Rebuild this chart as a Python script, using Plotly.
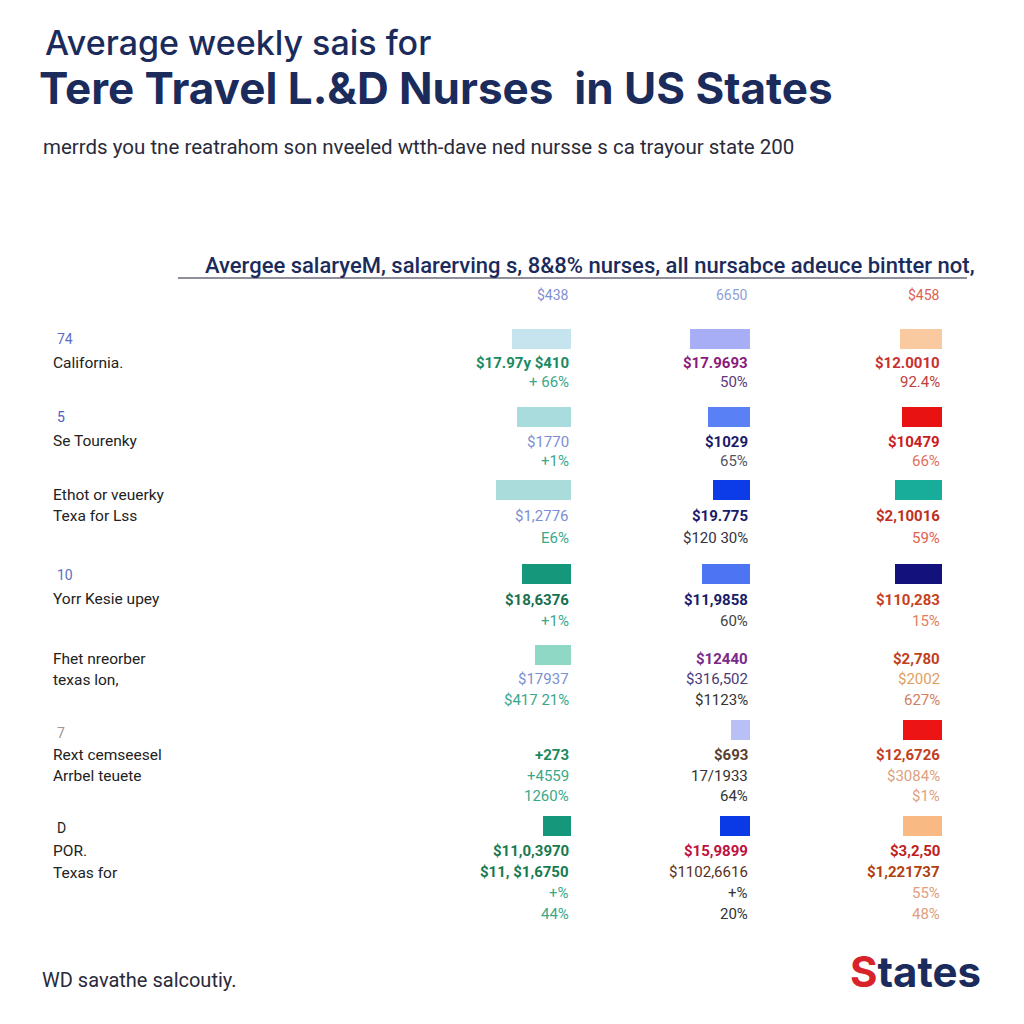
import plotly.graph_objects as go

# ---------------- data ----------------
rows = ["r1", "r2", "r3", "r4", "r5", "r6", "r7"]
row_codes = ["74", "5", "", "10", "", "7", "D"]
row_names = [
    ["California."],
    ["Se Tourenky"],
    ["Ethot or veuerky", "Texa for Lss"],
    ["Yorr Kesie upey"],
    ["Fhet nreorber", "texas lon,"],
    ["Rext cemseesel", "Arrbel teuete"],
    ["POR.", "Texas for"],
]
col_headers = ["$438", "6650", "$458"]

# bar values per column (None = no bar)
col1_values = [59, 54, 75, 49, 36, None, 28]
col2_values = [60, 42, 37, 48, None, 19, 30]
col3_values = [42, 40, 47, 47, None, 39, 39]

col1_colors = ["#c6e4ee", "#a9dcdc", "#abdcdc", "#15977c", "#90d8c6", "#ffffff", "#15977c"]
col2_colors = ["#a8aef6", "#5a80f6", "#0b3ce8", "#4d74f2", "#ffffff", "#b8c0f6", "#0a3ae6"]
col3_colors = ["#f9caa0", "#e81212", "#18ac9a", "#13127c", "#ffffff", "#ec1414", "#f8b982"]

# cell text lines: (text, colour, bold)
col1_text = [
    [("$17.97y $410", "#1a8a62", True), ("+ 66%", "#3aa88a", False)],
    [("$1770", "#7b8fd2", False), ("+1%", "#3aa88a", False)],
    [("$1,2776", "#7b8fd2", False), ("E6%", "#3aa88a", False)],
    [("$18,6376", "#17704e", True), ("+1%", "#3aa88a", False)],
    [("", "#000", False), ("$17937", "#7b8fd2", False), ("$417 21%", "#3aa88a", False)],
    [("+273", "#1a8a62", True), ("+4559", "#3aa88a", False), ("1260%", "#3aa88a", False)],
    [("$11,0,3970", "#177a50", True), ("$11, $1,6750", "#177a50", True), ("+%", "#3aa88a", False), ("44%", "#3aa88a", False)],
]
col2_text = [
    [("$17.9693", "#8a1a7c", True), ("50%", "#5a3a7a", False)],
    [("$1029", "#1a1a6a", True), ("65%", "#555566", False)],
    [("$19.775", "#1a1a6a", True), ("$120 30%", "#333344", False)],
    [("$11,9858", "#1a1a6a", True), ("60%", "#444444", False)],
    [("$12440", "#7a2a8a", True), ("$316,502", "#4a3a7a", False), ("$1123%", "#333333", False)],
    [("$693", "#5a4030", True), ("17/1933", "#333333", False), ("64%", "#333333", False)],
    [("$15,9899", "#c01040", True), ("$1102,6616", "#5a3020", False), ("+%", "#333333", False), ("20%", "#333333", False)],
]
col3_text = [
    [("$12.0010", "#c83030", True), ("92.4%", "#c04040", False)],
    [("$10479", "#c82020", True), ("66%", "#e07060", False)],
    [("$2,10016", "#c03020", True), ("59%", "#e06050", False)],
    [("$110,283", "#c84020", True), ("15%", "#e08060", False)],
    [("$2,780", "#c04020", True), ("$2002", "#e0a060", False), ("627%", "#d08060", False)],
    [("$12,6726", "#c04020", True), ("$3084%", "#e0a080", False), ("$1%", "#e0a080", False)],
    [("$3,2,50", "#c02020", True), ("$1,221737", "#b04010", True), ("55%", "#e0a080", False), ("48%", "#e0a080", False)],
]

# ---------------- layout constants ----------------
W = H = 1024
PX_PER_ROW = 81.17
first_row_px = 339
y_top = -first_row_px / PX_PER_ROW
y_bot = y_top + H / PX_PER_ROW
# vertical slot of each row (layout, in row units)
row_slot = [0, 0.961, 1.860, 2.895, 3.893, 4.817, 6.0]

col_right_px = [571, 750, 942]
col_dom_px = 120  # pixel width of each column's axis
text_start = [24, 25, 26, 26, 4, 25, 25]
text_step = [19, 19, 22, 21.5, 20.5, 20.5, 21]

FONT = "Roboto, Arial, sans-serif"
NAVY = "#1b2b5c"

fig = go.Figure()
cols = [(col1_values, col1_colors, col1_text),
        (col2_values, col2_colors, col2_text),
        (col3_values, col3_colors, col3_text)]

for ci, (vals, colors, _) in enumerate(cols):
    suffix = "" if ci == 0 else str(ci + 1)
    fig.add_trace(go.Bar(
        x=vals, y=row_slot, orientation="h",
        marker=dict(color=colors, line=dict(width=0)),
        width=0.235, xaxis="x" + suffix, yaxis="y",
        hoverinfo="skip", showlegend=False,
    ))

layout = dict(
    width=W, height=H,
    margin=dict(l=0, r=0, t=0, b=0),
    paper_bgcolor="white", plot_bgcolor="white",
    bargap=0,
    yaxis=dict(domain=[0, 1], range=[y_bot, y_top], visible=False, fixedrange=True),
    font=dict(family=FONT),
)
for ci in range(3):
    key = "xaxis" if ci == 0 else f"xaxis{ci+1}"
    r = col_right_px[ci] / W
    l = (col_right_px[ci] - col_dom_px) / W
    layout[key] = dict(domain=[l, r], range=[col_dom_px, 0], visible=False,
                       anchor="y", fixedrange=True)
fig.update_layout(**layout)

ann = []
# cell texts
for ci, (_, _, texts) in enumerate(cols):
    xref = "x" if ci == 0 else f"x{ci+1}"
    for ri, lines in enumerate(texts):
        for k, (t, c, b) in enumerate(lines):
            if not t:
                continue
            off = text_start[ri] + k * text_step[ri]
            ann.append(dict(
                x=0, y=row_slot[ri], xref=xref, yref="y",
                text=f"<b>{t}</b>" if b else t,
                showarrow=False, xanchor="right", yanchor="middle",
                yshift=-off, font=dict(size=15, color=c, family=FONT),
            ))

# left labels
code_colors = ["#5a70c0", "#4a60c0", "#5a70c0", "#5a70c0", "#5a70c0", "#999999", "#222222"]
code_shift = [0, 0, 0, 1, 0, 3, 2]
name_start = [23.5, 24, 5, 25, 4, 25, 25]
name_step = [20, 20, 21.5, 20, 21, 21, 22]
for ri in range(len(rows)):
    if row_codes[ri]:
        ann.append(dict(x=55 / W, y=row_slot[ri], xref="paper", yref="y",
                        text=row_codes[ri], showarrow=False, xanchor="left",
                        yanchor="middle", yshift=-code_shift[ri],
                        font=dict(size=14, color=code_colors[ri])))
    for k, nm in enumerate(row_names[ri]):
        ann.append(dict(x=51 / W, y=row_slot[ri], xref="paper", yref="y",
                        text=nm, showarrow=False, xanchor="left", yanchor="middle",
                        yshift=-(name_start[ri] + k * name_step[ri]),
                        font=dict(size=15.5, color="#222222")))

# column headers
hdr_colors = ["#7f8fd2", "#8f9fd6", "#e06050"]
for ci in range(3):
    xref = "x" if ci == 0 else f"x{ci+1}"
    ann.append(dict(x=0, y=1 - 295 / H, xref=xref, yref="paper", text=col_headers[ci],
                    showarrow=False, xanchor="right", yanchor="middle",
                    font=dict(size=14, color=hdr_colors[ci])))

# titles and texts
ann += [
    dict(x=43 / W, y=1 - 42 / H, xref="paper", yref="paper",
         text="Average weekly sais for", showarrow=False, xanchor="left", yanchor="middle",
         font=dict(size=34, color=NAVY, family="Inter, Roboto, sans-serif", weight=500)),
    dict(x=37 / W, y=1 - 88 / H, xref="paper", yref="paper",
         text="<b>Tere Travel L.&amp;D Nurses  in US States</b>", showarrow=False,
         xanchor="left", yanchor="middle",
         font=dict(size=44, color=NAVY, family="Inter, Roboto, sans-serif")),
    dict(x=41 / W, y=1 - 147 / H, xref="paper", yref="paper",
         text="merrds you tne reatrahom son nveeled wtth-dave ned nursse s ca trayour state 200",
         showarrow=False, xanchor="left", yanchor="middle",
         font=dict(size=20.5, color="#2a2a3a")),
    dict(x=590 / W, y=1 - 265 / H, xref="paper", yref="paper",
         text="Avergee salaryeM, salarerving s, 8&amp;8% nurses, all nursabce adeuce bintter not,",
         showarrow=False, xanchor="center", yanchor="middle",
         font=dict(size=22, color=NAVY, weight=500)),
    dict(x=40 / W, y=1 - 980 / H, xref="paper", yref="paper",
         text="WD savathe salcoutiy.", showarrow=False, xanchor="left", yanchor="middle",
         font=dict(size=20, color="#2a2a3a")),
    dict(x=983 / W, y=1 - 971 / H, xref="paper", yref="paper",
         text="<b><span style='color:#d8232a'>S</span>tates</b>", showarrow=False,
         xanchor="right", yanchor="middle",
         font=dict(size=42, color=NAVY, family="Inter, Roboto, sans-serif")),
]
fig.update_layout(annotations=ann)

fig.add_shape(type="line", xref="paper", yref="paper",
              x0=178 / W, x1=967 / W, y0=1 - 278 / H, y1=1 - 278 / H,
              line=dict(color="#6a6a7a", width=1.5))

fig.write_html("out.html", config={"displayModeBar": False},
               post_script="document.body.style.margin='0';document.body.style.overflow='hidden';")
